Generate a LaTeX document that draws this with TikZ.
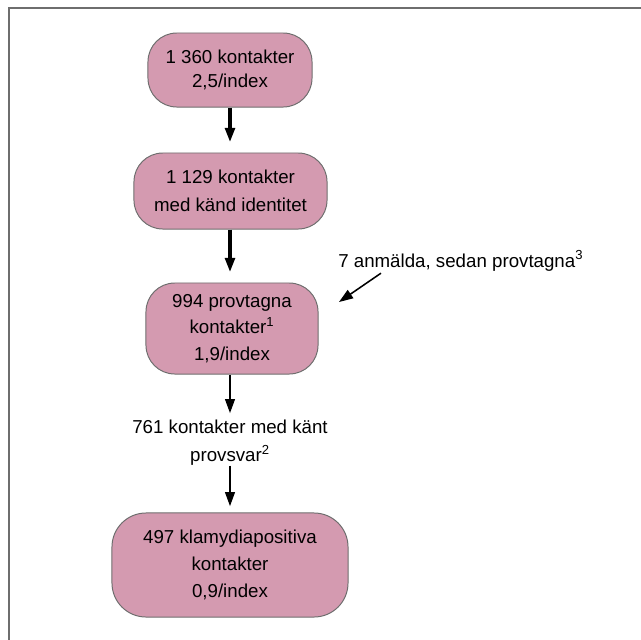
\documentclass[tikz,border=0pt]{standalone}
\usepackage{fontspec}
\setmainfont{Liberation Sans}
\usetikzlibrary{arrows.meta}
\definecolor{boxpink}{RGB}{212,154,176}
\definecolor{framegray}{RGB}{110,110,110}
\tikzset{
  flowbox/.style={draw=framegray, line width=0.7pt, fill=boxpink,
    rounded corners=0.72cm, align=center, inner sep=0pt},
  flowarrow/.style={-{Triangle[length=10pt,width=7pt]}, line width=2.2pt, shorten >=7.5pt},
  thinarrow/.style={-{Triangle[length=10pt,width=7pt]}, line width=1.1pt, shorten >=4.5pt},
  sidearrow/.style={-{Triangle[length=10pt,width=7pt]}, line width=1.1pt}
}
\begin{document}
\begin{tikzpicture}[x=0.025cm, y=-0.025cm, font=\fontsize{13.3}{18}\selectfont]
  \useasboundingbox (0,0) rectangle (641,640);
  \draw[framegray, line width=1.6pt] (9,640) -- (9,8) -- (641,8);

  \node[flowbox, minimum width=4.1cm, minimum height=1.85cm, font=\fontsize{13.3}{17}\selectfont]
    (all) at (230,70) {1 360 kontakter\\2,5/index};
  \node[flowbox, minimum width=4.825cm, minimum height=1.9cm, font=\fontsize{13.3}{20}\selectfont]
    (known) at (230.5,191) {1 129 kontakter\\med känd identitet};
  \node[flowbox, minimum width=4.3cm, minimum height=2.275cm, font=\fontsize{13.3}{19}\selectfont]
    (tested) at (232,328.5) {994 provtagna\\kontakter\textsuperscript{1}\\1,9/index};
  \node[inner sep=0pt, align=center, font=\fontsize{13.3}{20}\selectfont]
    (answer) at (230,442.5) {761 kontakter med känt\\provsvar\textsuperscript{2}};
  \node[flowbox, minimum width=5.9cm, minimum height=2.6cm, rounded corners=0.85cm,
    font=\fontsize{13.3}{19}\selectfont]
    (positive) at (230,565) {497 klamydiapositiva\\kontakter\\0,9/index};

  \node[anchor=base west, inner sep=0pt] (late) at (338,267) {7 anmälda, sedan provtagna\textsuperscript{3}};
  \coordinate (lateend) at (339,302);

  \draw[flowarrow] (all.south) -- (all.south |- known.north);
  \draw[flowarrow] (known.south -| answer.north) -- (tested.north -| answer.north);
  \draw[thinarrow] (tested.south -| answer.north) -- (answer.north);
  \draw[thinarrow] (answer.south) -- (positive.north);
  \draw[sidearrow] (late.south west) ++(43,2) -- (lateend);
\end{tikzpicture}
\end{document}
